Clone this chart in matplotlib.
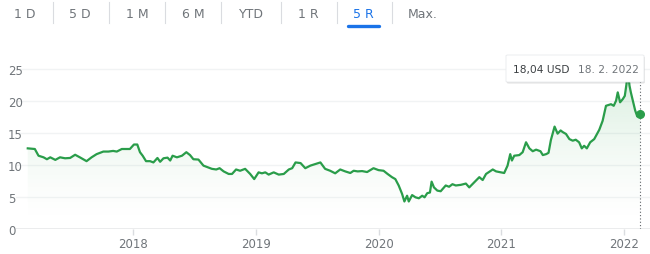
import matplotlib
matplotlib.use("Agg")
from matplotlib import pyplot as plt
from matplotlib.patches import FancyBboxPatch
from matplotlib.lines import Line2D
import matplotlib.dates as mdates
import numpy as np
import pandas as pd

# price history (USD)
dates = [
    "2017-02-21", "2017-03-14", "2017-03-25", "2017-04-09", "2017-04-19", "2017-04-29",
    "2017-05-14", "2017-05-28", "2017-06-12", "2017-06-27", "2017-07-12", "2017-07-26",
    "2017-08-15", "2017-08-30", "2017-09-14", "2017-10-04", "2017-10-19", "2017-11-02",
    "2017-11-13", "2017-11-28", "2017-12-22", "2018-01-03", "2018-01-13", "2018-01-21",
    "2018-01-29", "2018-02-08", "2018-02-20", "2018-03-02", "2018-03-14", "2018-03-22",
    "2018-04-01", "2018-04-13", "2018-04-21", "2018-04-28", "2018-05-11", "2018-05-26",
    "2018-06-08", "2018-06-19", "2018-06-29", "2018-07-14", "2018-07-29", "2018-08-13",
    "2018-08-23", "2018-09-05", "2018-09-15", "2018-09-27", "2018-10-12", "2018-10-22",
    "2018-11-03", "2018-11-15", "2018-11-30", "2018-12-15", "2018-12-27", "2019-01-09",
    "2019-01-19", "2019-01-29", "2019-02-08", "2019-02-23", "2019-03-10", "2019-03-25",
    "2019-04-09", "2019-04-19", "2019-04-29", "2019-05-14", "2019-05-28", "2019-06-12",
    "2019-06-27", "2019-07-12", "2019-07-26", "2019-08-10", "2019-08-25", "2019-09-09",
    "2019-09-24", "2019-10-09", "2019-10-19", "2019-10-31", "2019-11-13", "2019-11-28",
    "2019-12-17", "2020-01-01", "2020-01-16", "2020-01-28", "2020-02-10", "2020-02-20",
    "2020-03-01", "2020-03-11", "2020-03-18", "2020-03-26", "2020-03-31", "2020-04-10",
    "2020-04-20", "2020-04-30", "2020-05-10", "2020-05-17", "2020-05-25", "2020-06-02",
    "2020-06-07", "2020-06-14", "2020-06-24", "2020-07-04", "2020-07-19", "2020-07-29",
    "2020-08-08", "2020-08-18", "2020-09-02", "2020-09-17", "2020-09-27", "2020-10-12",
    "2020-10-27", "2020-11-06", "2020-11-16", "2020-12-06", "2020-12-16", "2021-01-09",
    "2021-01-19", "2021-01-27", "2021-02-01", "2021-02-08", "2021-02-23", "2021-03-05",
    "2021-03-15", "2021-03-25", "2021-04-04", "2021-04-14", "2021-04-27", "2021-05-04",
    "2021-05-14", "2021-05-21", "2021-05-28", "2021-06-08", "2021-06-17", "2021-06-26",
    "2021-07-02", "2021-07-12", "2021-07-22", "2021-08-01", "2021-08-10", "2021-08-20",
    "2021-08-28", "2021-09-04", "2021-09-12", "2021-09-22", "2021-10-04", "2021-10-19",
    "2021-10-29", "2021-11-08", "2021-11-23", "2021-12-01", "2021-12-08", "2021-12-13",
    "2021-12-20", "2021-12-28", "2022-01-03", "2022-01-08", "2022-01-12", "2022-01-17",
    "2022-01-21", "2022-01-28", "2022-02-03", "2022-02-09", "2022-02-14", "2022-02-18",
]
prices = [
    12.6, 12.5, 11.45, 11.2, 10.9, 11.2,
    10.8, 11.2, 11.05, 11.1, 11.6, 11.2,
    10.6, 11.2, 11.7, 12.1, 12.1, 12.2,
    12.1, 12.5, 12.5, 13.2, 13.2, 12.0,
    11.45, 10.6, 10.6, 10.4, 11.1, 10.5,
    11.05, 11.15, 10.7, 11.45, 11.2, 11.45,
    12.0, 11.55, 10.9, 10.85, 9.9, 9.6,
    9.4, 9.3, 9.5, 9.0, 8.6, 8.6,
    9.3, 9.1, 9.4, 8.6, 7.8, 8.85,
    8.7, 8.85, 8.5, 8.85, 8.5, 8.6,
    9.3, 9.5, 10.4, 10.3, 9.5, 9.9,
    10.15, 10.4, 9.4, 9.1, 8.7, 9.3,
    9.0, 8.75, 9.1, 9.0, 9.05, 8.9,
    9.5, 9.2, 9.1, 8.6, 8.1, 7.8,
    6.8, 5.5, 4.3, 5.2, 4.3, 5.3,
    4.95, 4.8, 5.2, 4.95, 5.6, 5.7,
    7.4, 6.5, 6.0, 5.9, 6.8, 6.6,
    7.0, 6.8, 6.9, 7.1, 6.5, 7.3,
    8.1, 7.65, 8.6, 9.3, 9.0, 8.75,
    9.9, 11.7, 10.7, 11.45, 11.55, 12.0,
    13.55, 12.6, 12.15, 12.4, 12.15, 11.55,
    11.7, 11.9, 13.9, 16.0, 14.9, 15.4,
    15.15, 14.85, 14.05, 13.8, 13.95, 13.55,
    12.6, 13.0, 12.6, 13.55, 14.05, 15.5,
    16.9, 19.25, 19.5, 19.25, 20.05, 21.35,
    19.8, 20.3, 20.8, 22.65, 24.6, 22.4,
    21.35, 19.8, 18.5, 17.6, 17.8, 18.04,
]
yticks = [0, 5, 10, 15, 20, 25]
tabs = ["1 D", "5 D", "1 M", "6 M", "YTD", "1 R", "5 R", "Max."]
active_tab = "5 R"
tooltip_value = "18,04 USD"
tooltip_date = "18. 2. 2022"

x = mdates.date2num(pd.to_datetime(dates))
y = np.array(prices)

green = "#2a9d4a"
grey = "#70757a"

W, H = 650, 255
fig = plt.figure(figsize=(W / 100, H / 100), dpi=100)
ax = fig.add_axes([16 / W, 25 / H, 634 / W, 170 / H])

x0 = mdates.date2num(pd.Timestamp("2017-01-17"))
x1 = mdates.date2num(pd.Timestamp("2022-03-19"))
ytop = 170 / 6.4

# gradient fill under the line, stronger near the top
grad = np.linspace(0, 1, 256).reshape(-1, 1)
rgba = np.zeros((256, 1, 4))
rgba[..., :3] = matplotlib.colors.to_rgb("#34a853")
rgba[..., 3] = 0.2 * grad ** 1.6
img = ax.imshow(rgba, extent=[x0, x1, 0, 25], origin="lower", aspect="auto", zorder=1)
poly = ax.fill_between(x, y, 0, color="none", lw=0)
img.set_clip_path(poly.get_paths()[0], transform=ax.transData)
ax.set_xlim(x0, x1)
ax.set_ylim(0, ytop)

for t in yticks[1:]:
    ax.axhline(t, color="#f1f3f4", lw=1, zorder=0)
ax.axhline(0, color="#9aa0a6", lw=1, zorder=2)

ax.plot(x, y, color=green, lw=1.6, zorder=3, solid_joinstyle="round")
ax.plot(x[-1], y[-1], "o", color=green, ms=5.5, zorder=4)

# dotted guide from the tooltip down to the axis
ax.plot([x[-1], x[-1]], [0, 23.4], color="#5f6368", lw=0.8, ls=(0, (1, 2)), zorder=2)

for s in ax.spines.values():
    s.set_visible(False)

ax.set_yticks(yticks)
ax.set_yticklabels([str(t) for t in yticks], ha="left")
ax.tick_params(axis="y", length=0, pad=5.8, labelsize=8.5, labelcolor=grey)
years = [mdates.date2num(pd.Timestamp(f"{yr}-01-01")) for yr in range(2018, 2023)]
ax.set_xticks(years)
ax.set_xticklabels([str(yr) for yr in range(2018, 2023)])
ax.tick_params(axis="x", length=4, width=1, color="#dadce0", pad=2, labelsize=8.5, labelcolor=grey)

# tooltip box
bx, by, bw, bh = 506 / W, 1 - 83 / H, 138 / W, 27 / H
shadow = FancyBboxPatch((bx + 0.8 / W, by - 1.5 / H), bw, bh, boxstyle="round,pad=0,rounding_size=0.003",
                        transform=fig.transFigure, fc="#000000", ec="none", alpha=0.12, zorder=9)
box = FancyBboxPatch((bx, by), bw, bh, boxstyle="round,pad=0,rounding_size=0.003",
                     transform=fig.transFigure, fc="white", ec="#e8eaed", lw=0.6, zorder=10)
fig.add_artist(shadow)
fig.add_artist(box)
fig.text(513 / W, 1 - 70 / H, tooltip_value, fontsize=7.7, color="#3c4043", va="center", zorder=11)
fig.text(578 / W, 1 - 70 / H, tooltip_date, fontsize=7.7, color=grey, va="center", zorder=11)

# range tabs
tab_x = [25, 80, 137, 193, 251, 308, 363, 423]
sep_x = [53, 109, 165, 221, 281, 337, 392]
for lbl, tx in zip(tabs, tab_x):
    c = "#1a73e8" if lbl == active_tab else grey
    fig.text(tx / W, 1 - 14 / H, lbl, fontsize=9, color=c, ha="center", va="center")
for sx in sep_x:
    fig.add_artist(Line2D([sx / W, sx / W], [1 - 3 / H, 1 - 24 / H], color="#dadce0", lw=0.8))
fig.add_artist(Line2D([348 / W, 379 / W], [1 - 26.5 / H, 1 - 26.5 / H], color="#1a73e8", lw=2.4,
                      solid_capstyle="round"))

fig.savefig("out.png", dpi=100)
